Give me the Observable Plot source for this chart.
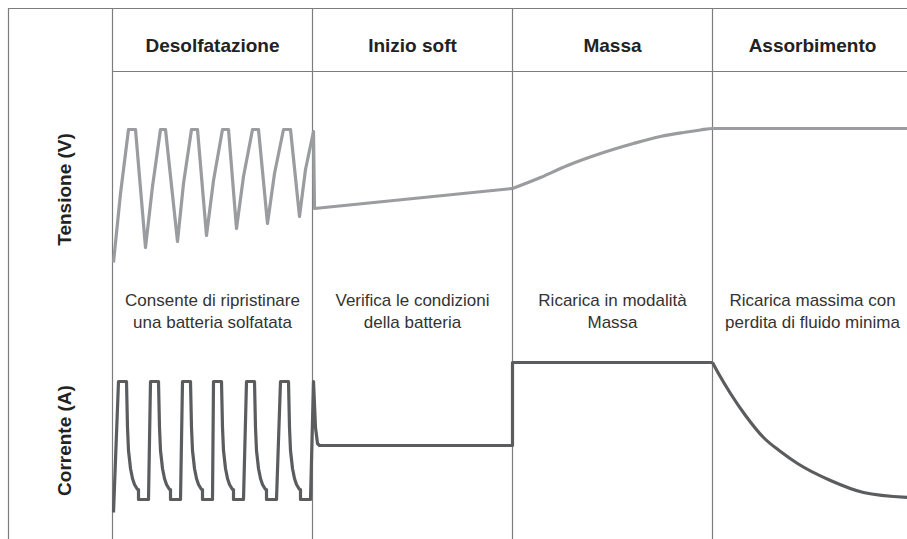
<!DOCTYPE html>
<html>
<head>
<meta charset="utf-8">
<script src="https://cdn.jsdelivr.net/npm/d3@7"></script>
<script src="https://cdn.jsdelivr.net/npm/@observablehq/plot@0.6"></script>
<style>
  html, body { margin: 0; padding: 0; background: #fff; }
  #chart { position: relative; width: 907px; height: 539px; overflow: hidden; }
  #chart svg { position: absolute; left: 0; top: 0; background: transparent; }
</style>
</head>
<body>
<div id="chart"></div>
<script>
// ---- Data (time in arbitrary units, phases 200 units wide) ----
const phases = ["Desolfatazione", "Inizio soft", "Massa", "Assorbimento"];
const phaseStart = [0, 200, 400, 600];
const descriptions = [
  "Consente di ripristinare\nuna batteria solfatata",
  "Verifica le condizioni\ndella batteria",
  "Ricarica in modalità\nMassa",
  "Ricarica massima con\nperdita di fluido minima"
];
const rowLabels = ["Tensione (V)", "Corrente (A)"];

// Voltage (relative units)
const voltageMain = [
  [1,0.3],[8,7.2],[16,13.6],[23,13.6],[33,1.8],[40,7.9],[48,13.6],[53,13.6],[65,2.4],
  [71,8.2],[79,13.6],[85,13.6],[94,3.0],[101,8.5],[110,13.6],[116,13.6],[124,3.7],
  [131,8.9],[140,13.6],[146,13.6],[155,4.2],[162,9.2],[171,13.6],[178,13.6],[187,4.9],
  [193,9.6],[201,13.4],[202,5.7],[400,7.7]
];
const voltageMassa = [
  [400,7.7],[428,8.8],[455,10.0],[488,11.2],[521,12.2],[548,12.9],
  [571,13.3],[588,13.55],[600,13.7],[795,13.7]
];

// Current (relative units)
const currentMain = [
  [1,0.3],
  [6,13.4],[14,13.4],[15,8.8],[16,6.5],[18,4.7],[20,3.7],[22,3.1],[25,2.6],[26,2.6],[26,1.6],[36,1.6],
  [38,13.4],[46,13.4],[47,8.8],[48,6.5],[50,4.7],[52,3.7],[54,3.1],[57,2.6],[58,2.6],[58,1.6],[68,1.6],
  [70,13.4],[78,13.4],[79,8.8],[80,6.5],[82,4.7],[84,3.7],[86,3.1],[89,2.6],[90,2.6],[90,1.6],[100,1.6],
  [101,13.4],[109,13.4],[110,8.8],[111,6.5],[113,4.7],[115,3.7],[117,3.1],[120,2.6],[121,2.6],[121,1.6],[131,1.6],
  [134,13.4],[142,13.4],[143,8.8],[144,6.5],[146,4.7],[148,3.7],[150,3.1],[153,2.6],[154,2.6],[154,1.6],[164,1.6],
  [168,13.4],[176,13.4],[177,8.8],[178,6.5],[180,4.7],[182,3.7],[184,3.1],[187,2.6],[188,2.6],[188,1.6],[198,1.6],
  [201,13.4],[203,8.8],[205,7.2],[207,7.0],
  [400,7.0],[400,15.3],[600,15.3]
];
const currentAbsorb = [
  [600,15.3],[606,14.2],[618,12.2],[633,10.0],[651,7.8],[668,6.4],
  [685,5.2],[718,3.5],[751,2.3],[795,1.8]
];

// ---- Layout ----
const W = 907, H = 539;
const xOpt = {domain: [-104, 795], axis: null};
const base = {width: W, height: H, marginLeft: 8, marginRight: 0, marginTop: 0, marginBottom: 0, style: {background: "transparent"}};
const font = "Liberation Sans, Arial, Helvetica, sans-serif";
const gridColor = "#7c7c7c";

const centers = phaseStart.map(s => s + 100);

const layout = Plot.plot({
  ...base,
  x: xOpt,
  y: {domain: [0, H], range: [0, H], axis: null},
  marks: [
    Plot.ruleY([8], {x1: -104, x2: 795, stroke: gridColor, strokeWidth: 1.2}),
    Plot.ruleY([71], {x1: 0, x2: 795, stroke: gridColor, strokeWidth: 1.2}),
    Plot.ruleX([-104, ...phaseStart], {y1: 8, y2: H, stroke: gridColor, strokeWidth: 1.2}),
    Plot.text(phases, {x: (d, i) => centers[i], y: 45, text: d => d, fontSize: 19, fontWeight: "bold", fill: "#222", fontFamily: font}),
    Plot.text(descriptions, {x: (d, i) => centers[i], y: 309, text: d => d, fontSize: 17, lineHeight: 1.3, fill: "#333", fontFamily: font}),
    Plot.text(rowLabels, {x: -48, y: (d, i) => [189, 440][i], text: d => d, rotate: -90, fontSize: 19, fontWeight: "bold", fill: "#222", fontFamily: font})
  ]
});

const lineOpt = {x: d => d[0], y: d => d[1], strokeWidth: 3.2, strokeLinejoin: "round", strokeLinecap: "butt"};

const voltage = Plot.plot({
  ...base,
  x: xOpt,
  y: {domain: [0, 14], range: [265, 125], axis: null},
  marks: [
    Plot.line(voltageMain, {...lineOpt, stroke: "#9b9ca0"}),
    Plot.line(voltageMassa, {...lineOpt, stroke: "#9b9ca0", curve: "monotone-x"})
  ]
});

const current = Plot.plot({
  ...base,
  x: xOpt,
  y: {domain: [0, 14], range: [515, 375], axis: null},
  marks: [
    Plot.line(currentMain, {...lineOpt, stroke: "#5b5c5e"}),
    Plot.line(currentAbsorb, {...lineOpt, stroke: "#5b5c5e", curve: "monotone-x"})
  ]
});

const el = document.getElementById("chart");
el.appendChild(layout);
el.appendChild(voltage);
el.appendChild(current);
</script>
</body>
</html>
